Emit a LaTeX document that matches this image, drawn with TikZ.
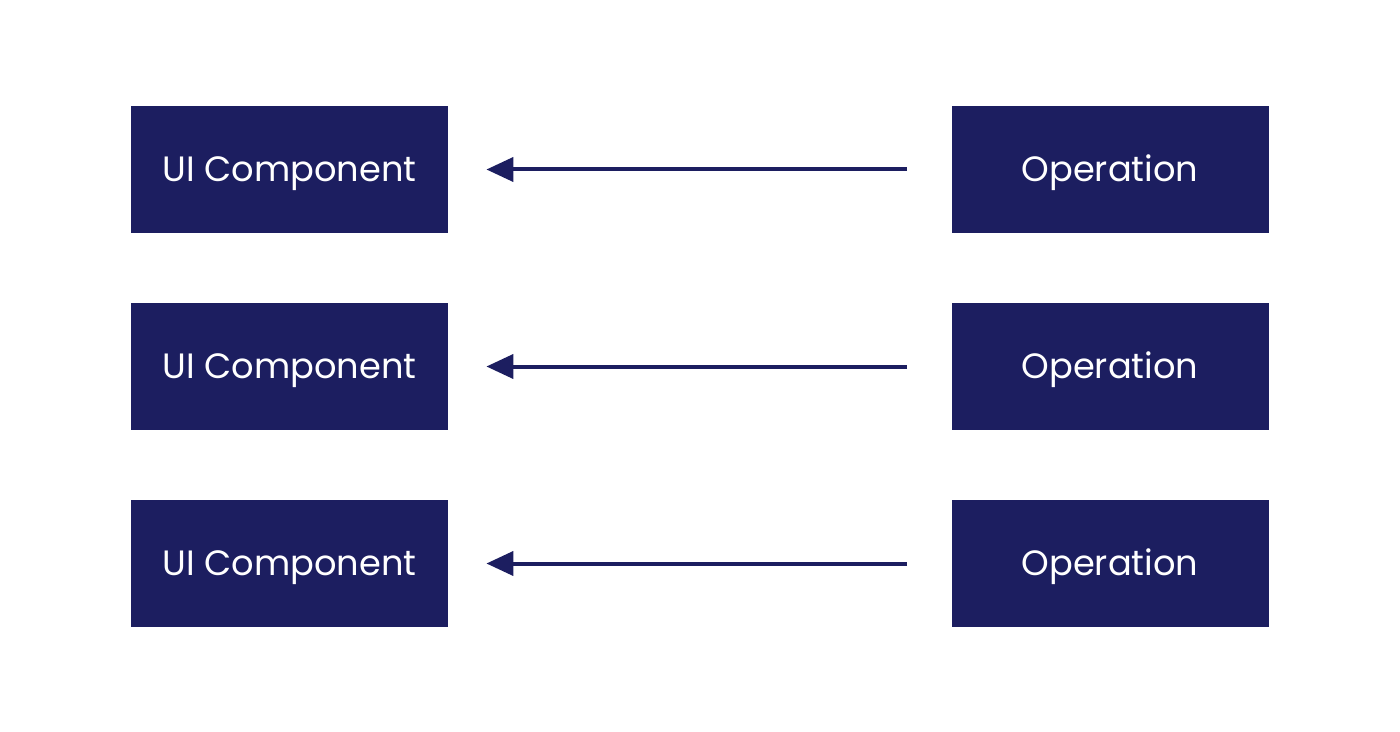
\documentclass[tikz,border=0pt]{standalone}
\usepackage{fontspec}
\setmainfont{Poppins}
\usetikzlibrary{arrows.meta}
\definecolor{N1}{RGB}{28,30,96}
\tikzset{
  block/.style={fill=N1, text=white, minimum width=158.5pt, minimum height=63.5pt,
                inner sep=0pt, text height=12.4pt, text depth=0pt,
                font=\fontsize{17.6}{17.6}\selectfont},
  flow/.style={N1, line width=2pt, -{Triangle[length=13.5pt,width=12pt]},
               shorten <=22pt, shorten >=19pt}
}

\begin{document}
\begin{tikzpicture}[x=0.5pt, y=-0.5pt]
      \useasboundingbox (0,0) rectangle (1400,732);
      \node[block] (ui1) at (289.5, 169.5) {UI Component};
      \node[block] (ui2) at (289.5, 366.5) {UI Component};
      \node[block] (ui3) at (289.5, 563.5) {UI Component};
      \node[block] (op1) at (1110, 169.5) {Operation};
      \node[block] (op2) at (1110, 366.5) {Operation};
      \node[block] (op3) at (1110, 563.5) {Operation};
      \draw[flow] (op1) -- (ui1);
      \draw[flow] (op2) -- (ui2);
      \draw[flow] (op3) -- (ui3);
    \end{tikzpicture}
\end{document}
